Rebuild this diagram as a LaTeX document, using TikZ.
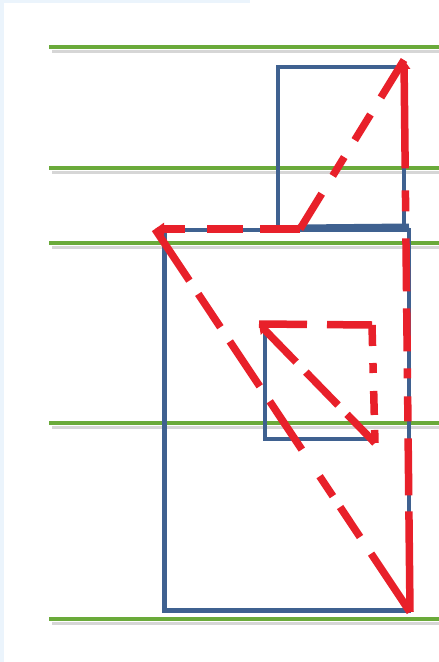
\documentclass[tikz,border=0pt]{standalone}
\usetikzlibrary{arrows.meta}
\definecolor{gline}{HTML}{6AAA3A}
\definecolor{bline}{HTML}{3F6190}
\definecolor{rline}{HTML}{E8202A}
\definecolor{bgblue}{HTML}{EBF4FC}
\tikzset{
  guide/.style={gline, line width=4pt},
  guideshadow/.style={black!40, opacity=0.4, line width=3pt},
  frame/.style={bline, line width=4.5pt, line join=miter},
  vec/.style={rline, line width=7.5pt},
  tip/.style={-{Triangle[length=9pt,width=12pt]}},
  rtip/.style={{Triangle[length=9pt,width=12pt]}-}
}
\begin{document}
\begin{tikzpicture}[x=1pt,y=-1pt]
\useasboundingbox (0,0) rectangle (439,662);
\fill[white] (0,0) rectangle (439,662);
\fill[bgblue] (0,0) rectangle (4,662);
\fill[bgblue] (0,0) rectangle (250,3);
% guide lines
\foreach \yy in {47,168,243,423,619}{
  \draw[guideshadow] (52,\yy+4) -- (439,\yy+4);
  \draw[guide] (49,\yy) -- (439,\yy);
}
% blue frames
\coordinate (bTL) at (164.5,230);
\coordinate (bBR) at (409,610.5);
\draw[frame] (bTL) rectangle (bBR);
\coordinate (sTL) at (278,67);
\coordinate (sBR) at (404,227);
\draw[frame] (sBR) |- (sTL) -- (sTL|-sBR);
\draw[frame, line width=7pt] (sTL|-sBR) ++(20,1) -- (bBR|-sBR);
\coordinate (iTL) at (265,333);
\coordinate (iBR) at (370,439);
\draw[frame] (iTL) -- (iTL|-iBR) -- (iBR);
% big red triangle
\coordinate (A) at (155,229);
\coordinate (B) at (300,229);
\coordinate (C) at (404,60);
\coordinate (D) at (410,612);
\draw[vec,rtip,dash pattern=on 100pt off 22pt on 21pt off 27pt on 53pt off 17pt on 43pt off 17pt on 10pt off 18pt on 25pt off 17pt on 57pt off 16pt on 300pt] (C) -- (D);
\draw[vec,dash pattern=on 44pt off 20pt on 30pt off 20pt on 22pt off 21pt on 80pt] (C) -- (B);
\draw[vec,tip,dash pattern=on 40pt off 17pt on 36pt off 22pt on 60pt] (B) -- (A);
\draw[vec,dash pattern=on 62pt off 16pt on 40pt off 17pt on 54pt off 18pt on 58pt off 32pt on 24pt off 13pt on 36pt off 20pt on 100pt] (A) -- (D);
% small red triangle
\coordinate (P) at (259,324);
\coordinate (Q) at (372,325);
\coordinate (R) at (375,443);
\draw[vec,dash pattern=on 48pt off 20pt on 80pt] (P) -- (Q);
\draw[vec,dash pattern=on 21pt off 17pt on 10pt off 18pt on 24pt off 15pt on 40pt] (Q) -- (R);
\draw[vec,tip,dash pattern=on 40pt off 13pt on 46pt off 14pt on 80pt] (R) -- (P);
\end{tikzpicture}
\end{document}
